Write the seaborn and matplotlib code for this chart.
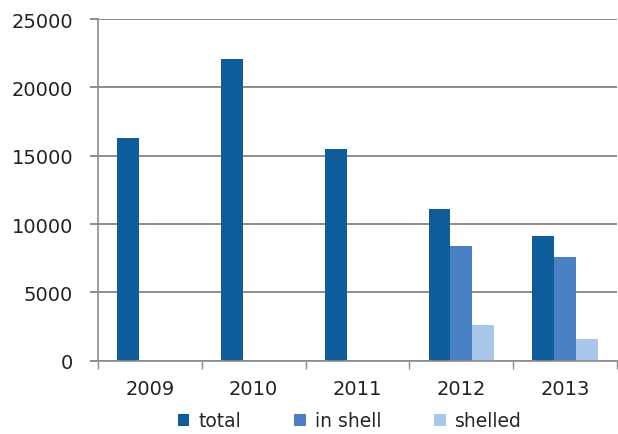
import numpy as np
import pandas as pd
import seaborn as sns
import matplotlib.pyplot as plt
from matplotlib.ticker import FixedLocator

# data
years = ['2009', '2010', '2011', '2012', '2013']
total = [16300, 22050, 15500, 11100, 9150]
in_shell = [np.nan, np.nan, np.nan, 8400, 7600]
shelled = [np.nan, np.nan, np.nan, 2600, 1600]
series = ['total', 'in shell', 'shelled']
colors = ['#0f5c9a', '#4a80c4', '#a9c7ea']

df = pd.DataFrame({'year': years, 'total': total, 'in shell': in_shell, 'shelled': shelled})
df_long = df.melt(id_vars='year', var_name='kind', value_name='value').dropna()

sns.set_style('white')
plt.rcParams['font.family'] = ['DejaVu Sans']

fig = plt.figure(figsize=(6.18, 4.35), dpi=100)
ax = fig.add_axes([0.1586, 0.1685, 0.8398, 0.7855])

sns.barplot(data=df_long, x='year', y='value', hue='kind', order=years,
            hue_order=series, palette=colors, width=0.63, saturation=1,
            errorbar=None, linewidth=0, ax=ax)

ax.set_ylim(0, 25000)
ax.set_xlim(-0.5, len(years) - 0.5)
ax.set_yticks(range(0, 25001, 5000))
ax.yaxis.grid(True, color='#8c8c8c', linewidth=1.4)
ax.set_axisbelow(True)

# tick marks between categories, none under labels
ax.xaxis.set_minor_locator(FixedLocator(np.arange(-0.5, len(years), 1)))
ax.tick_params(axis='x', which='major', length=0, pad=13, labelsize=14, labelcolor='#222222')
ax.tick_params(axis='x', which='minor', length=6, width=1, color='#8c8c8c', direction='out', bottom=True)
ax.tick_params(axis='y', length=6, width=1.4, color='#8c8c8c', left=True, pad=12,
               labelsize=14, labelcolor='#222222')

for side in ['top', 'right']:
    ax.spines[side].set_visible(False)
for side in ['left', 'bottom']:
    ax.spines[side].set_color('#8c8c8c')
    ax.spines[side].set_linewidth(1.2)

ax.set_xlabel('')
ax.set_ylabel('')

handles, labels = ax.get_legend_handles_labels()
ax.legend(handles, labels, loc='upper center', bbox_to_anchor=(0.485, -0.115), ncol=3,
          frameon=False, fontsize=13.5, handlelength=0.62, handleheight=0.62,
          handletextpad=0.5, columnspacing=2.8, borderpad=0.1)

fig.savefig('out.png', dpi=100)
